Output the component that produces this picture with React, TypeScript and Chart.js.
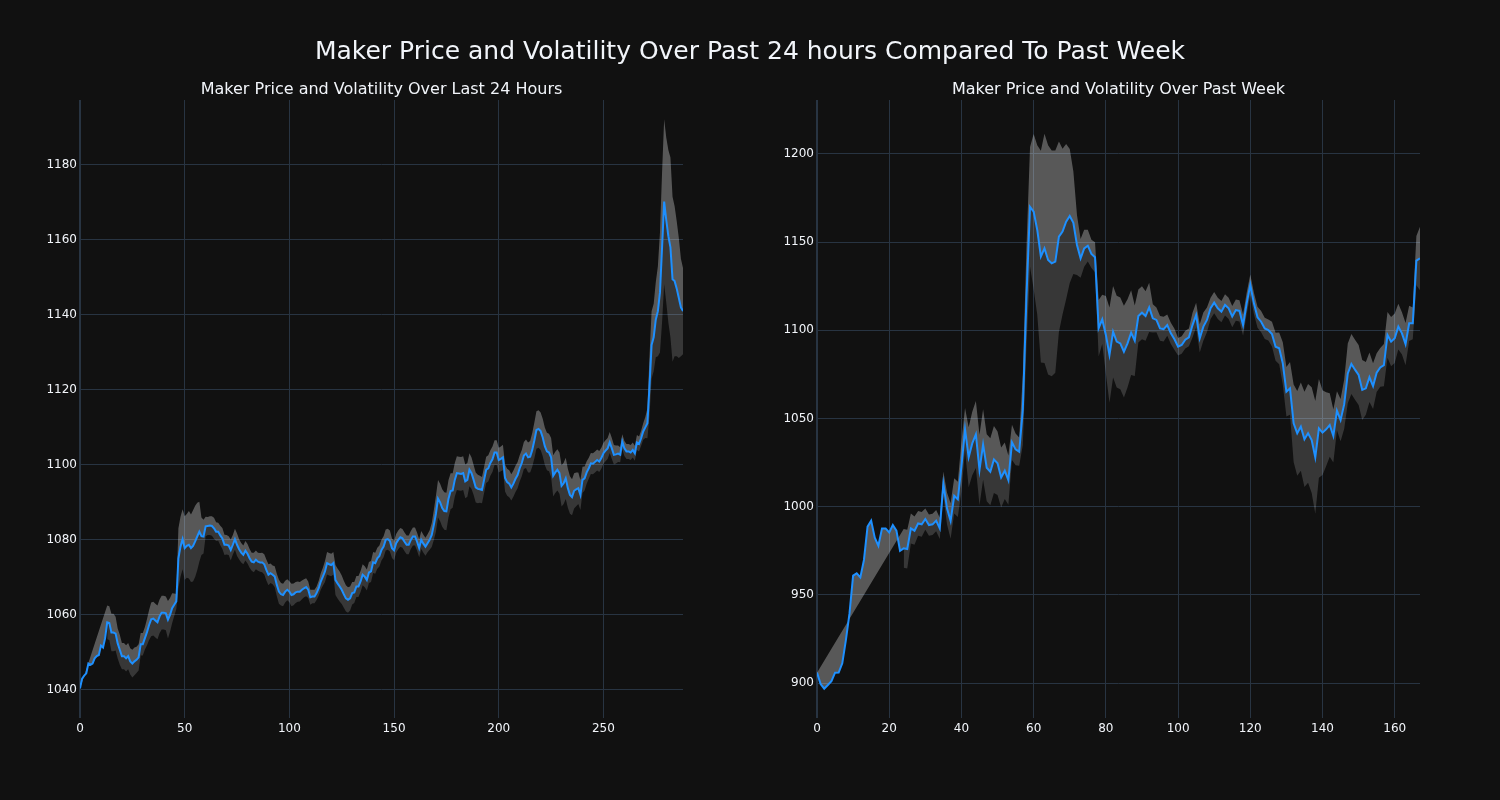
import React, { useEffect, useRef } from "react";
import { Chart, registerables } from "chart.js";

Chart.register(...registerables);

const dayPrice: number[] = [
  1040.4, 1043, 1043.8, 1044.4, 1047, 1046.7, 1047, 1048.4, 1049, 1049.3,
  1051.8, 1051.3, 1053.8, 1058, 1057.8, 1055.3, 1055.3, 1055, 1052.4, 1050.7,
  1049, 1049, 1048.4, 1049, 1047.6, 1047, 1047.6, 1048, 1048.7, 1052.2,
  1052.2, 1053.8, 1055.4, 1057.3, 1058.8, 1059, 1058.5, 1058, 1059.6, 1060.6,
  1060.6, 1060.4, 1058.7, 1060, 1061.8, 1062.7, 1063.6, 1075.1, 1078.2, 1080.2,
  1077.8, 1078.4, 1078.7, 1077.8, 1078.4, 1079.6, 1080.9, 1082.2, 1081, 1080.9,
  1083.6, 1083.7, 1083.8, 1083.7, 1083.1, 1082.2, 1082.2, 1081.2, 1080.4, 1078.7,
  1078.7, 1078.5, 1077.3, 1078.7, 1080.2, 1078.7, 1077.5, 1076.6, 1076, 1077.1,
  1076.3, 1075.1, 1074.2, 1074, 1074.7, 1074.2, 1074, 1074, 1073.5, 1072,
  1070.7, 1071.1, 1070.7, 1070.2, 1068, 1066.2, 1065.5, 1065.3, 1066.2, 1066.7,
  1066.2, 1065.3, 1065.5, 1066, 1066.2, 1066.2, 1066.7, 1067.1, 1067.4, 1066.7,
  1064.7, 1064.9, 1064.9, 1065.8, 1067.1, 1068.9, 1070.2, 1071.6, 1073.8, 1073.5,
  1073.3, 1073.8, 1069.3, 1068.4, 1067.6, 1066.7, 1065.5, 1064.4, 1064, 1064.4,
  1065.8, 1066, 1067.6, 1067.6, 1068.9, 1070.7, 1070.2, 1069.3, 1071.3, 1071.6,
  1074, 1073.8, 1075.1, 1075.7, 1077.3, 1078.2, 1080, 1080.2, 1079.7, 1077.8,
  1077.2, 1079.1, 1080, 1080.7, 1080.4, 1079.5, 1078.7, 1078.7, 1080, 1080.9,
  1080.9, 1079.5, 1077.8, 1080, 1079, 1078.2, 1079.1, 1080, 1081.3, 1084,
  1087, 1091, 1090, 1088.5, 1087.7, 1087.6, 1091, 1093, 1093.2, 1096,
  1097.8, 1097.7, 1097.6, 1097.8, 1095.6, 1096, 1098.7, 1097.8, 1096, 1094,
  1093.6, 1093.5, 1093.3, 1096, 1098.7, 1099.1, 1100.5, 1101.5, 1103.3, 1103.3,
  1101.3, 1101.6, 1102, 1096.5, 1095.4, 1095, 1094, 1095, 1096.3, 1097.3,
  1099.1, 1100.5, 1102.5, 1103, 1102, 1102.2, 1104, 1106.5, 1109.3, 1109.6,
  1109, 1107.3, 1105, 1103.6, 1103.3, 1102, 1097.1, 1098, 1098.7, 1097.8,
  1094.4, 1095.1, 1096.4, 1093.8, 1092, 1091.4, 1093.1, 1093.5, 1093.8, 1092,
  1096, 1096.4, 1098, 1099.1, 1100.4, 1100.3, 1100.8, 1101.3, 1100.9, 1101.8,
  1103.1, 1103.8, 1104.4, 1106, 1104.4, 1102.7, 1102.8, 1103, 1102.7, 1106.2,
  1104.4, 1103.6, 1103.6, 1103.3, 1104, 1103.1, 1106, 1105.6, 1107.1, 1108.9,
  1110, 1111.1, 1121, 1132, 1134, 1138.7, 1141, 1146, 1158, 1170.2,
  1165.3, 1161, 1158, 1149.5, 1149, 1147, 1144.5, 1142, 1141,
];

const dayVol: (number | null)[] = [
  0, null, null, null, null, null, null, null, null, null,
  null, null, null, 4.5, 4.5, 5, 5, 4.5, 4, 4,
  3.5, 3.5, 3.5, 3.5, 3.5, 3.7, 3.7, 3.5, 3.5, 3,
  3, 3, 3.5, 4, 4.5, 4.5, 4.5, 4.5, 4.5, 4.5,
  4.5, 4.5, 5, 4.5, 4, 3, 2, 8, 8, 8,
  8.5, 8.5, 9, 9, 9.5, 9.5, 9, 8, 5, 4.5,
  2.6, 2.4, 2.5, 2.6, 2.8, 2.5, 2.4, 2.6, 2.8, 2.7,
  2.6, 2.5, 2.8, 2.6, 2.8, 3, 2.7, 2.6, 2.5, 2.6,
  2.6, 2.5, 2.4, 2.6, 2.5, 2.4, 2.5, 2.6, 2.7, 2.8,
  2.8, 2.6, 2.5, 2.8, 3, 3.2, 3, 3, 2.9, 2.8,
  2.8, 3, 2.9, 2.8, 2.7, 2.6, 2.5, 2.4, 2.4, 2.2,
  2, 1.8, 1.8, 1.8, 2, 2.2, 2.4, 2.8, 3, 3,
  3, 3, 4, 4, 4, 3.8, 3.6, 3.5, 3.4, 3.2,
  3, 2.8, 2.8, 2.8, 2.8, 2.8, 2.8, 2.8, 2.8, 2.8,
  2.8, 2.8, 2.8, 2.8, 2.8, 2.8, 2.8, 2.8, 2.8, 2.6,
  2.6, 2.5, 2.5, 2.5, 2.5, 2.5, 2.5, 2.5, 2.4, 2.4,
  2.4, 2.4, 2.4, 2.4, 2.4, 2.4, 2.4, 2.6, 3.2, 4,
  4.8, 5, 5, 5, 5, 5, 5, 4.8, 4.6, 4.5,
  4.5, 4.5, 4.5, 4.5, 4.5, 4.5, 4.4, 4.2, 4, 4,
  3.8, 3.6, 3.5, 3.5, 3.5, 3.5, 3.4, 3.4, 3.3, 3.3,
  3.3, 3.3, 3.4, 3.6, 3.6, 3.6, 3.5, 3.5, 3.5, 3.5,
  3.5, 3.5, 3.6, 3.8, 4, 4.2, 4.5, 4.8, 5, 5,
  5, 5, 5, 5, 5, 5.2, 5.5, 5.5, 5.5, 5.5,
  5.5, 5.5, 5.5, 5.2, 5, 4.8, 4.7, 4.5, 4.2, 4,
  3.5, 3.2, 3, 2.8, 2.8, 2.8, 2.8, 2.8, 2.8, 2.8,
  2.8, 2.8, 2.8, 2.8, 2.8, 2.6, 2.4, 2.2, 2, 2,
  2, 2, 2, 2, 2, 2, 2, 2, 2, 2.2,
  2.8, 4, 8, 9, 9, 10, 12, 16, 20, 22,
  22, 23, 24, 22, 20, 18, 16, 13, 11.5,
];

const weekPrice: number[] = [
  905.9, 899.4, 896.8, 898.9, 901.1, 905.9, 906, 911.2, 924.4, 939.5,
  960.9, 962.2, 959.9, 969.8, 988.7, 992.1, 982.4, 977.9, 987.7, 987.7,
  985.4, 989.6, 986.4, 975, 976.4, 976, 987.7, 986.4, 990.5, 990,
  993, 989.6, 990, 992.1, 987.7, 1012.9, 999.1, 991.9, 1006.2, 1004.2,
  1022.7, 1043.9, 1028, 1035.9, 1041, 1020.8, 1035.3, 1022.1, 1019.8, 1026.8,
  1024.6, 1016.6, 1020.4, 1015.1, 1036.5, 1032.5, 1031.2, 1055, 1118, 1170,
  1167.3, 1156.9, 1141.8, 1146.5, 1139.9, 1138, 1139, 1153.1, 1156, 1161.6,
  1164.8, 1161, 1148.4, 1140.8, 1146.5, 1148, 1143.3, 1141.4, 1101.2, 1106.2,
  1097.4, 1086, 1099.2, 1093.6, 1092.6, 1087.9, 1092.6, 1098.7, 1094.1, 1108.1,
  1110, 1108.1, 1113, 1106.8, 1105.9, 1101.1, 1100.7, 1103, 1098.3, 1094.9,
  1090.7, 1091.7, 1094.7, 1096, 1103, 1108.7, 1095.5, 1102.1, 1105.9, 1112.5,
  1115.7, 1112.5, 1110.6, 1114.4, 1112.5, 1107.8, 1111.5, 1111, 1103, 1115.3,
  1125.7, 1115.3, 1107.4, 1104.9, 1101.1, 1100.2, 1097.9, 1090.7, 1089.8, 1081.3,
  1065.2, 1067.1, 1047.3, 1041.6, 1045.4, 1038.2, 1041.6, 1037.8, 1028, 1044.4,
  1042, 1043.9, 1046.3, 1040.1, 1054.4, 1049.1, 1058, 1075.6, 1080.9, 1077.7,
  1074.7, 1066.2, 1067.1, 1073.4, 1068.4, 1076, 1079, 1080.3, 1097.4, 1093.6,
  1095.5, 1102.1, 1098.3, 1092.2, 1104, 1104, 1139.5, 1140.8,
];

const weekVol: (number | null)[] = [
  0, null, null, null, null, null, null, null, null, null,
  null, null, null, null, null, null, null, null, null, null,
  null, null, null, null, 11, 11, 8.5, 8, 7, 7,
  6, 6, 6, 6, 6, 7, 9, 10, 10, 10,
  14, 12, 17, 18, 19, 20, 20, 19, 19, 19,
  18, 17, 16, 14, 10, 9, 8, 20, 28, 34,
  44, 48, 60, 65, 65, 64, 63, 54, 47, 44,
  38, 29, 17, 11, 10.5, 9, 8, 8.5, 16, 14,
  22, 27, 26, 26, 26, 26, 25, 24, 20, 15,
  15, 14, 14, 8, 7, 7, 7, 6, 6, 6,
  5, 5, 5, 5, 7, 7, 8, 8, 7, 6,
  6, 6, 6, 6, 6, 6, 6, 6, 6, 6,
  6, 6, 6, 6, 6, 6, 7, 8, 9, 12,
  14, 15, 22, 24, 25, 27, 28, 30, 32, 28,
  24, 21, 18, 15, 11, 12, 14, 17, 17, 17,
  17, 17, 15, 14, 13, 11, 11, 12, 13, 14,
  14, 13, 12, 12, 10, 9, 14, 18,
];

const dayXTicks = [0, 50, 100, 150, 200, 250];
const dayYTicks = [1040, 1060, 1080, 1100, 1120, 1140, 1160, 1180];
const weekXTicks = [0, 20, 40, 60, 80, 100, 120, 140, 160];
const weekYTicks = [900, 950, 1000, 1050, 1100, 1150, 1200];

const mainTitle = "Maker Price and Volatility Over Past 24 hours Compared To Past Week";
const dayTitle = "Maker Price and Volatility Over Last 24 Hours";
const weekTitle = "Maker Price and Volatility Over Past Week";

const FONT = "'DejaVu Sans', Verdana, sans-serif";
const TEXT = "#f2f5fa";
const GRID = "#283442";

type PanelProps = {
  price: number[];
  vol: (number | null)[];
  xTicks: number[];
  yTicks: number[];
  xMax: number;
  yMin: number;
  yMax: number;
  axisW: number;
  padRight: number;
  left: number;
};

function Panel(p: PanelProps) {
  const ref = useRef<HTMLCanvasElement>(null);
  useEffect(() => {
    if (!ref.current) return;
    const line = p.price.map((y, x) => ({ x, y }));
    const upper = p.price.map((y, x) => {
      const v = p.vol[x];
      return { x, y: v == null ? null : y + v };
    });
    const lower = p.price.map((y, x) => {
      const v = p.vol[x];
      return { x, y: v == null || v === 0 ? null : y - v };
    });
    const tickFont = { family: FONT, size: 12 };
    const chart = new Chart(ref.current, {
      type: "line",
      data: {
        datasets: [
          {
            data: line as any,
            borderColor: "#1E90FF",
            borderWidth: 2,
            pointRadius: 0,
            fill: false,
            tension: 0,
            order: 0,
          },
          {
            data: upper as any,
            borderColor: "rgba(0,0,0,0)",
            borderWidth: 0,
            backgroundColor: "rgba(255,255,255,0.3)",
            pointRadius: 0,
            fill: "-1",
            spanGaps: true,
            tension: 0,
            order: 1,
          },
          {
            data: lower as any,
            borderColor: "rgba(0,0,0,0)",
            borderWidth: 0,
            backgroundColor: "rgba(255,255,255,0.16)",
            pointRadius: 0,
            fill: "-2",
            spanGaps: true,
            tension: 0,
            order: 2,
          },
        ],
      },
      options: {
        responsive: false,
        animation: false,
        events: [],
        layout: { padding: { left: 0, right: p.padRight, top: 100, bottom: 52 } },
        plugins: {
          legend: { display: false },
          tooltip: { enabled: false },
          title: { display: false },
        },
        scales: {
          x: {
            type: "linear",
            min: 0,
            max: p.xMax,
            afterFit: (s: any) => {
              s.height = 30;
            },
            afterBuildTicks: (s: any) => {
              s.ticks = p.xTicks.map((value) => ({ value }));
            },
            grid: {
              color: GRID,
              lineWidth: (c: any) => (c.tick && c.tick.value === 0 ? 2 : 1),
              drawTicks: false,
            },
            border: { display: false },
            ticks: {
              color: TEXT,
              font: tickFont,
              padding: 4,
              maxRotation: 0,
              autoSkip: false,
              callback: (v: any) => String(v),
            },
          },
          y: {
            type: "linear",
            min: p.yMin,
            max: p.yMax,
            afterFit: (s: any) => {
              s.width = p.axisW;
            },
            afterBuildTicks: (s: any) => {
              s.ticks = p.yTicks.map((value) => ({ value }));
            },
            grid: { color: GRID, lineWidth: 1, drawTicks: false },
            border: { display: false },
            ticks: {
              color: TEXT,
              font: tickFont,
              padding: 3,
              autoSkip: false,
              callback: (v: any) => String(v),
            },
          },
        },
      },
    });
    return () => chart.destroy();
  }, []);
  return (
    <canvas
      ref={ref}
      width={750}
      height={800}
      style={{ position: "absolute", left: p.left, top: 0, width: 750, height: 800 }}
    />
  );
}

function Label({ text, x, y, size }: { text: string; x: number; y: number; size: number }) {
  return (
    <div
      style={{
        position: "absolute",
        left: x,
        top: y,
        transform: "translate(-50%, -50%)",
        whiteSpace: "nowrap",
        fontFamily: FONT,
        fontSize: size,
        color: TEXT,
        lineHeight: 1,
      }}
    >
      {text}
    </div>
  );
}

export default function App() {
  useEffect(() => {
    document.body.style.margin = "0";
    document.body.style.background = "#111111";
  }, []);
  return (
    <div
      style={{
        position: "absolute",
        left: 0,
        top: 0,
        width: 1500,
        height: 800,
        background: "#111111",
        overflow: "hidden",
      }}
    >
      <Panel
        price={dayPrice}
        vol={dayVol}
        xTicks={dayXTicks}
        yTicks={dayYTicks}
        xMax={288}
        yMin={1032.5}
        yMax={1197.3}
        axisW={80}
        padRight={67}
        left={0}
      />
      <Panel
        price={weekPrice}
        vol={weekVol}
        xTicks={weekXTicks}
        yTicks={weekYTicks}
        xMax={167}
        yMin={880.2}
        yMax={1230.6}
        axisW={67}
        padRight={80}
        left={750}
      />
      <Label text={mainTitle} x={750} y={50} size={25} />
      <Label text={dayTitle} x={381.5} y={89} size={16} />
      <Label text={weekTitle} x={1118.5} y={89} size={16} />
    </div>
  );
}
